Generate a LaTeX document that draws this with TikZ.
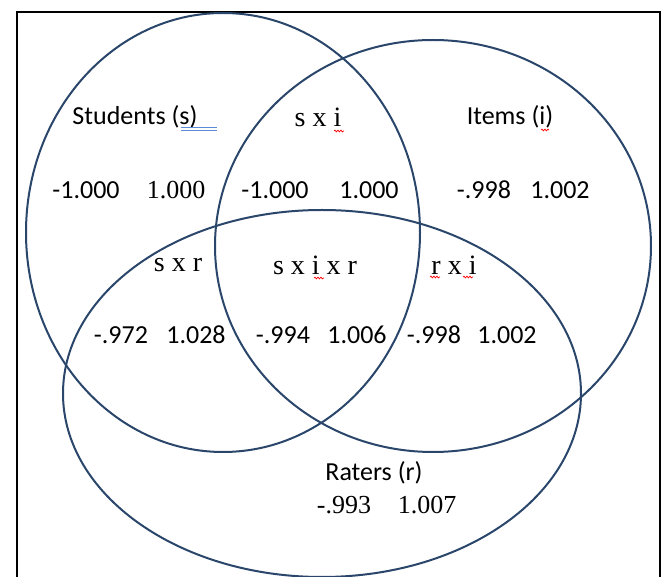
\documentclass[tikz,border=0pt]{standalone}
\usepackage{fontspec}
\setmainfont{Carlito}
\newfontfamily\timesfont{Liberation Serif}
\usetikzlibrary{decorations.pathmorphing}
\definecolor{ringblue}{HTML}{2A466A}
\definecolor{markblue}{HTML}{5B8BD9}

\begin{document}
\begin{tikzpicture}[x=1pt,y=-1pt,
  ring/.style={draw=ringblue,line width=2pt},
  lab/.style={font=\fontsize{26}{30}\selectfont,inner sep=0pt},
  tlab/.style={font=\fontsize{26}{30}\timesfont,inner sep=0pt},
  tname/.style={font=\fontsize{28}{32}\timesfont,inner sep=0pt},
  squig/.style={draw=red,line width=0.7pt,decorate,decoration={snake,amplitude=0.9pt,segment length=3pt}}]
\useasboundingbox (0,0) rectangle (662,577);
% frame, open at the bottom
\draw[line width=1.5pt] (17,577) -- (17,12) -- (660,12) -- (660,577);
% the three sets
\coordinate (sc) at (223,232.5);
\coordinate (ic) at (433,246);
\coordinate (rc) at (322,393.5);
\draw[ring] (sc) ellipse [x radius=197pt,y radius=219.5pt];
\draw[ring] (ic) ellipse [x radius=218pt,y radius=206pt];
\draw[ring] (rc) ellipse [x radius=259pt,y radius=183.5pt];
% row 1: names
\node[lab] (stu) at (135,117) {Students (s)};
\node[tname] (si) at (318,117) {s x i};
\node[lab] (itm) at (510,117) {Items (i)};
% row 2: values
\node[lab] (stuA) at (86,190) {-1.000};
\node[tlab] (stuB) at (176,190) {1.000};
\node[lab] (siA) at (275,190) {-1.000};
\node[lab] (siB) at (369,190) {1.000};
\node[lab] (itmA) at (484,190) {-.998};
\node[lab] (itmB) at (560,190) {1.002};
% row 3: two and three way
\node[tname] (sr) at (178,265) {s x r};
\node[tname] (sir) at (315,265) {s x i x r};
\node[tname] (ri) at (454,265) {r x i};
% row 4: values
\node[lab] (srA) at (121,335) {-.972};
\node[lab] (srB) at (196,335) {1.028};
\node[lab] (sirA) at (283,335) {-.994};
\node[lab] (sirB) at (357,335) {1.006};
\node[lab] (riA) at (434,335) {-.998};
\node[lab] (riB) at (507,335) {1.002};
% raters
\node[lab] (rat) at (374,473) {Raters (r)};
\node[tlab] (ratA) at (344,505) {-.993};
\node[tlab] (ratB) at (427,505) {1.007};
% proofing marks
\draw[markblue,line width=0.8pt] (181,127) -- (217,127) (181,130) -- (217,130);
\draw[squig] (334,131) -- (344,131);
\draw[squig] (541,130) -- (549,130);
\draw[squig] (314,278) -- (324,278);
\draw[squig] (430,277) -- (440,277);
\draw[squig] (463,277) -- (473,277);
\end{tikzpicture}
\end{document}
